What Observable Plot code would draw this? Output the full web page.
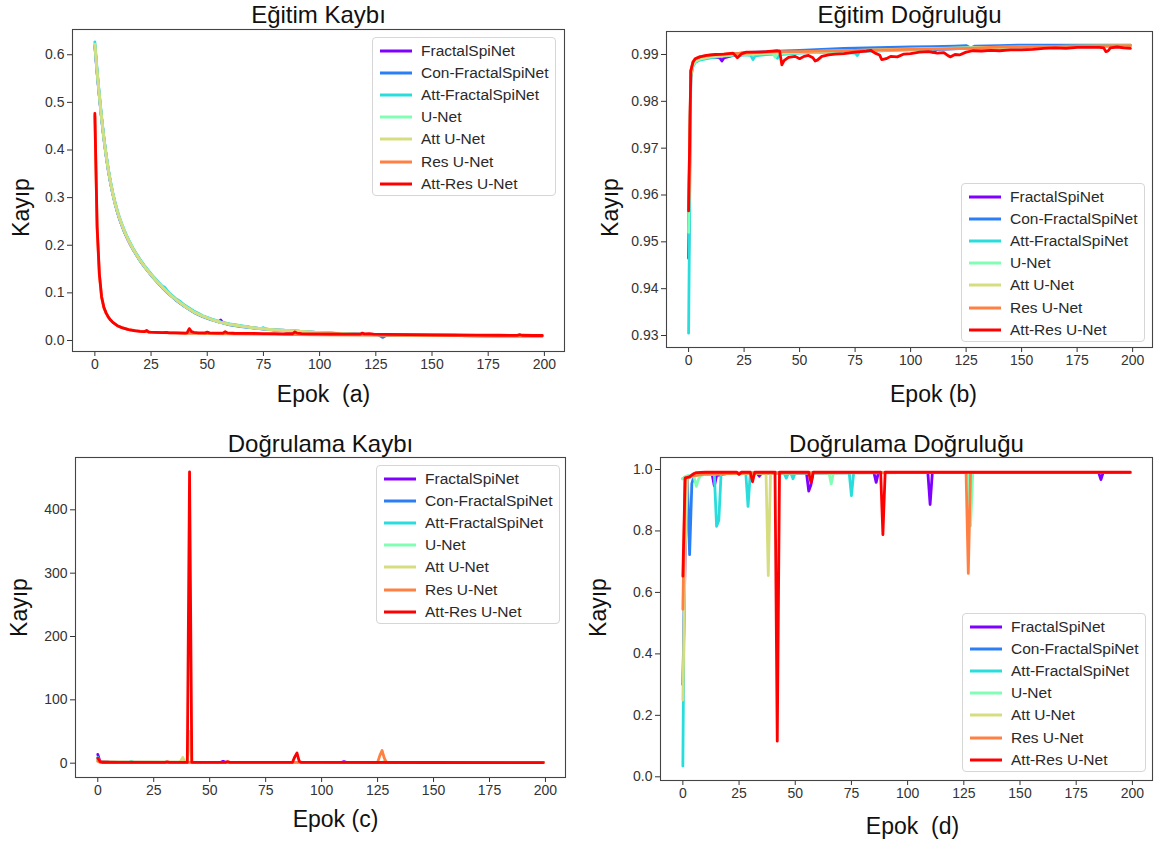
<!DOCTYPE html>
<html>
<head>
<meta charset="utf-8">
<script src="https://cdn.jsdelivr.net/npm/d3@7"></script>
<script src="https://cdn.jsdelivr.net/npm/@observablehq/plot@0.6"></script>
<style>
  html, body { margin: 0; padding: 0; background: #fff; }
  #fig { position: relative; width: 1154px; height: 845px; background: #fff; overflow: hidden;
         font-family: "Liberation Sans", Arial, sans-serif; }
  .panel { position: absolute; }
  .legend { position: absolute; box-sizing: border-box; border: 1px solid #d6d6d6; border-radius: 4px;
            background: rgba(255,255,255,0.85); }
  .legend .row { position: absolute; left: 0; height: 20px; display: flex; align-items: center;
                 font-size: 15.5px; color: #2a2a2a; white-space: nowrap; }
</style>
</head>
<body>
<div id="fig"></div>
<script>
// ---------------- series & styling ----------------
const seriesNames = ["FractalSpiNet", "Con-FractalSpiNet", "Att-FractalSpiNet", "U-Net", "Att U-Net", "Res U-Net", "Att-Res U-Net"];
const seriesColors = ["#8000ff", "#2a7ff6", "#2adddd", "#80ffb4", "#d5dd80", "#ff8042", "#ff0000"];

// ---------------- tick labels ----------------
const epochTicks = [0, 25, 50, 75, 100, 125, 150, 175, 200];
const trainLossTicks = [0, 0.1, 0.2, 0.3, 0.4, 0.5, 0.6];
const trainAccTicks = [0.93, 0.94, 0.95, 0.96, 0.97, 0.98, 0.99];
const valLossTicks = [0, 100, 200, 300, 400];
const valAccTicks = [0, 0.2, 0.4, 0.6, 0.8, 1.0];

// ---------------- (a) Eğitim Kaybı : [epoch, value] ----------------
const trainLossFractalSpiNet = [[0,0.618],[1,0.562],[2,0.512],[3,0.466],[4,0.424],[5,0.388],[6,0.357],[7,0.33],[8,0.307],[9,0.288],[10,0.27],[11,0.255],[12,0.242],[13,0.23],[14,0.219],[15,0.209],[16,0.2],[17,0.192],[18,0.184],[20,0.169],[22,0.156],[25,0.138],[28,0.122],[30,0.112],[33,0.098],[36,0.086],[40,0.072],[44,0.06],[48,0.051],[52,0.044],[55,0.039],[56,0.043],[57,0.037],[60,0.034],[65,0.03],[70,0.027],[75,0.0245],[80,0.0225],[85,0.021],[90,0.0195],[95,0.018],[100,0.0165],[110,0.0145],[120,0.013],[130,0.012],[150,0.011],[175,0.01],[199,0.0095]];
const trainLossConFractalSpiNet = [[0,0.62],[1,0.563],[2,0.513],[3,0.466],[4,0.425],[5,0.389],[6,0.357],[7,0.33],[8,0.307],[9,0.287],[10,0.27],[11,0.255],[12,0.242],[13,0.23],[14,0.219],[15,0.209],[16,0.2],[17,0.191],[18,0.183],[20,0.168],[22,0.155],[25,0.137],[28,0.121],[30,0.111],[33,0.097],[36,0.085],[40,0.071],[44,0.059],[48,0.05],[52,0.043],[56,0.038],[60,0.033],[65,0.029],[70,0.0265],[75,0.024],[80,0.022],[85,0.0205],[90,0.019],[95,0.0175],[100,0.016],[110,0.0142],[120,0.0128],[126,0.0118],[128,0.0065],[130,0.0115],[150,0.0108],[175,0.0099],[199,0.0094]];
const trainLossAttFractalSpiNet = [[0,0.627],[1,0.568],[2,0.517],[3,0.47],[4,0.428],[5,0.391],[6,0.36],[7,0.333],[8,0.31],[9,0.29],[10,0.273],[11,0.258],[12,0.245],[13,0.233],[14,0.222],[15,0.212],[16,0.203],[17,0.194],[18,0.186],[20,0.171],[22,0.158],[25,0.14],[28,0.124],[30,0.114],[31,0.112],[33,0.1],[36,0.088],[38,0.082],[40,0.074],[44,0.062],[46,0.057],[48,0.052],[52,0.045],[56,0.039],[60,0.035],[65,0.031],[70,0.027],[74,0.025],[75,0.027],[76,0.024],[80,0.0225],[85,0.021],[90,0.0195],[95,0.018],[100,0.0165],[110,0.0145],[120,0.013],[130,0.012],[150,0.011],[175,0.01],[199,0.0095]];
const trainLossUNet = [[0,0.621],[1,0.564],[2,0.514],[3,0.467],[4,0.425],[5,0.389],[6,0.358],[7,0.331],[8,0.308],[9,0.288],[10,0.271],[11,0.256],[12,0.243],[13,0.231],[14,0.22],[15,0.21],[16,0.201],[17,0.192],[18,0.184],[20,0.169],[22,0.156],[25,0.138],[28,0.122],[30,0.112],[33,0.098],[36,0.086],[40,0.072],[44,0.06],[48,0.051],[52,0.044],[56,0.038],[60,0.034],[65,0.03],[70,0.027],[75,0.0245],[80,0.0225],[85,0.021],[90,0.0195],[95,0.018],[100,0.0163],[110,0.0143],[120,0.0128],[130,0.0118],[150,0.0108],[175,0.0099],[199,0.0094]];
const trainLossAttUNet = [[0,0.622],[1,0.565],[2,0.514],[3,0.467],[4,0.425],[5,0.389],[6,0.358],[7,0.331],[8,0.308],[9,0.288],[10,0.271],[11,0.256],[12,0.243],[13,0.231],[14,0.22],[15,0.21],[16,0.201],[17,0.192],[18,0.184],[20,0.169],[22,0.156],[25,0.138],[28,0.122],[30,0.112],[33,0.098],[36,0.086],[40,0.072],[44,0.06],[48,0.051],[52,0.044],[56,0.038],[60,0.034],[65,0.03],[70,0.027],[75,0.0245],[80,0.0225],[85,0.021],[90,0.0195],[95,0.018],[100,0.0165],[110,0.0145],[120,0.013],[130,0.012],[150,0.011],[175,0.01],[199,0.0095]];
const trainLossResUNet = [[0,0.472],[1,0.235],[2,0.138],[3,0.09],[4,0.069],[5,0.057],[6,0.049],[7,0.043],[8,0.038],[10,0.031],[12,0.027],[15,0.023],[20,0.0195],[25,0.0175],[30,0.0165],[35,0.0158],[40,0.0152],[45,0.0148],[50,0.0145],[60,0.014],[70,0.0135],[80,0.013],[90,0.0125],[100,0.012],[120,0.0115],[140,0.011],[160,0.0105],[180,0.01],[199,0.0095]];
const trainLossAttResUNet = [[0,0.477],[1,0.24],[2,0.14],[3,0.092],[4,0.07],[5,0.058],[6,0.049],[7,0.043],[8,0.038],[10,0.031],[12,0.027],[15,0.023],[18,0.02],[20,0.019],[22,0.0185],[23,0.021],[24,0.0175],[27,0.017],[30,0.0165],[32,0.017],[33,0.0162],[36,0.016],[40,0.0155],[41,0.016],[42,0.025],[43,0.0185],[44,0.017],[46,0.0162],[49,0.016],[50,0.0175],[51,0.016],[54,0.0155],[57,0.0153],[58,0.0185],[59,0.016],[62,0.0152],[66,0.015],[70,0.0148],[75,0.0146],[80,0.0145],[84,0.014],[85,0.0142],[88,0.0142],[89,0.018],[90,0.0155],[92,0.0145],[96,0.014],[100,0.0138],[105,0.0136],[108,0.0138],[110,0.0135],[115,0.0133],[118,0.0132],[119,0.0155],[120,0.014],[122,0.0145],[124,0.0132],[130,0.013],[140,0.0125],[150,0.012],[160,0.0115],[170,0.0112],[180,0.011],[188,0.0108],[189,0.0125],[190,0.011],[195,0.0105],[199,0.0105]];

// ---------------- (b) Eğitim Doğruluğu ----------------
const trainAccFractalSpiNet = [[0,0.9465],[1,0.9855],[2,0.9878],[3,0.9885],[5,0.989],[10,0.9895],[14,0.9893],[15,0.9886],[16,0.9893],[20,0.9898],[25,0.99],[30,0.9902],[40,0.9904],[50,0.9906],[60,0.9907],[75,0.9909],[100,0.9911],[108,0.9911],[110,0.9905],[112,0.9911],[125,0.9913],[150,0.9915],[175,0.9917],[199,0.9918]];
const trainAccConFractalSpiNet = [[0,0.952],[1,0.9862],[2,0.9882],[3,0.9888],[5,0.9893],[10,0.9897],[15,0.9899],[20,0.9901],[25,0.9904],[30,0.9905],[40,0.9907],[50,0.9909],[60,0.9911],[70,0.9913],[80,0.9914],[90,0.9915],[100,0.9916],[110,0.9917],[120,0.9918],[125,0.9919],[127,0.9914],[129,0.9918],[140,0.9919],[150,0.992],[175,0.992],[199,0.992]];
const trainAccAttFractalSpiNet = [[0,0.9305],[1,0.985],[2,0.9875],[3,0.9883],[5,0.9888],[10,0.9893],[15,0.9896],[20,0.9898],[25,0.9899],[28,0.9898],[29,0.9889],[30,0.9897],[35,0.99],[39,0.9901],[40,0.9892],[41,0.99],[50,0.9903],[60,0.9905],[75,0.9903],[76,0.9898],[77,0.9906],[100,0.991],[125,0.9913],[150,0.9916],[175,0.9918],[199,0.9919]];
const trainAccUNet = [[0,0.952],[1,0.9855],[2,0.9877],[3,0.9885],[5,0.989],[10,0.9895],[20,0.9899],[30,0.9901],[38,0.9903],[39,0.9894],[40,0.9902],[50,0.9904],[60,0.9906],[75,0.9908],[100,0.9911],[125,0.9914],[150,0.9916],[175,0.9918],[199,0.9919]];
const trainAccAttUNet = [[0,0.957],[1,0.9858],[2,0.988],[3,0.9887],[5,0.9891],[10,0.9896],[20,0.99],[30,0.9902],[40,0.9904],[50,0.9905],[60,0.9907],[75,0.9909],[100,0.9912],[125,0.9914],[150,0.9916],[175,0.9917],[199,0.9918]];
const trainAccResUNet = [[0,0.957],[1,0.9866],[2,0.9885],[3,0.9891],[5,0.9895],[10,0.9899],[20,0.9902],[30,0.9904],[40,0.9906],[50,0.9906],[60,0.9907],[75,0.9909],[100,0.9911],[125,0.9913],[127,0.9913],[140,0.9916],[150,0.9917],[175,0.9918],[199,0.9919]];
const trainAccAttResUNet = [[0,0.9566],[1,0.9865],[2,0.9884],[3,0.9891],[5,0.9895],[8,0.9898],[12,0.99],[16,0.9901],[20,0.9903],[22,0.9893],[24,0.9902],[26,0.9905],[30,0.9905],[35,0.9906],[40,0.9908],[41,0.9907],[42,0.9878],[43,0.9887],[45,0.9894],[48,0.9896],[50,0.9891],[52,0.9896],[54,0.9898],[56,0.9893],[57,0.9886],[58,0.9888],[60,0.9896],[63,0.9899],[66,0.9901],[70,0.9902],[75,0.9905],[80,0.9907],[82,0.9909],[84,0.9903],[86,0.9899],[87,0.9889],[89,0.9891],[91,0.9896],[94,0.9895],[97,0.9901],[100,0.9902],[104,0.9905],[108,0.9906],[112,0.9903],[115,0.9904],[117,0.9897],[118,0.9895],[120,0.99],[122,0.9899],[125,0.9905],[128,0.9908],[132,0.9907],[136,0.9909],[140,0.9908],[145,0.991],[150,0.991],[155,0.9911],[160,0.9913],[165,0.9914],[170,0.9913],[175,0.9915],[180,0.9915],[185,0.9915],[187,0.9914],[188,0.9906],[189,0.9908],[190,0.9914],[193,0.9916],[196,0.9914],[199,0.9913]];

// ---------------- (c) Doğrulama Kaybı ----------------
const valLossFractalSpiNet = [[0,14],[1,2.5],[2,1.8],[5,1.5],[10,1.4],[25,1.3],[55,1.3],[56,3],[57,1.3],[100,1.2],[109,1.2],[110,2.5],[111,1.2],[150,1.1],[199,1.1]];
const valLossConFractalSpiNet = [[0,6],[1,2],[5,1.4],[50,1.3],[100,1.2],[199,1.1]];
const valLossAttFractalSpiNet = [[0,9],[1,2],[14,1.5],[15,3],[16,1.5],[50,1.3],[100,1.2],[199,1.1]];
const valLossUNet = [[0,4],[1,1.8],[50,1.3],[100,1.2],[127,1.2],[128,3],[129,1.2],[199,1.1]];
const valLossAttUNet = [[0,5],[1,2],[36,1.5],[37,3],[38,9],[39,1.5],[40,1.5],[41,50],[42,1.5],[100,1.2],[199,1.1]];
const valLossResUNet = [[0,3],[1,1.5],[50,1.3],[100,1.2],[125,1.2],[126,12],[127,20],[128,8],[129,1.2],[199,1.1]];
const valLossAttResUNet = [[0,8],[1,2.5],[2,1.5],[10,1.3],[30,1.2],[31,2],[32,1.2],[40,1.2],[41,460],[42,1.3],[57,1.2],[58,2.5],[59,1.2],[87,1.5],[88,10],[89,16],[90,3],[91,1.2],[100,1.2],[150,1.1],[199,1.0]];

// ---------------- (d) Doğrulama Doğruluğu ----------------
const valAccFractalSpiNet = [[0,0.30],[1,0.72],[2,0.97],[3,0.975],[5,0.98],[8,0.985],[13,0.985],[14,0.946],[15,0.98],[18,0.985],[20,0.987],[30,0.988],[33,0.988],[34,0.978],[35,0.988],[50,0.989],[55,0.988],[56,0.93],[57,0.95],[58,0.989],[70,0.99],[85,0.99],[86,0.958],[87,0.99],[100,0.99],[109,0.99],[110,0.886],[111,0.99],[150,0.99],[185,0.99],[186,0.967],[187,0.99],[199,0.99]];
const valAccConFractalSpiNet = [[0,0.97],[1,0.975],[2,0.965],[3,0.723],[4,0.955],[5,0.98],[7,0.985],[10,0.986],[20,0.987],[30,0.988],[50,0.989],[100,0.99],[199,0.99]];
const valAccAttFractalSpiNet = [[0,0.035],[1,0.975],[2,0.978],[5,0.982],[10,0.985],[14,0.984],[15,0.815],[16,0.835],[17,0.986],[20,0.987],[28,0.988],[29,0.88],[30,0.988],[45,0.989],[46,0.972],[47,0.989],[48,0.989],[49,0.97],[50,0.989],[74,0.99],[75,0.915],[76,0.99],[199,0.99]];
const valAccUNet = [[0,0.97],[1,0.975],[2,0.98],[5,0.975],[6,0.945],[7,0.97],[8,0.98],[10,0.985],[20,0.987],[30,0.988],[50,0.989],[65,0.99],[66,0.953],[67,0.99],[100,0.99],[127,0.99],[128,0.816],[129,0.99],[199,0.99]];
const valAccAttUNet = [[0,0.25],[1,0.72],[2,0.97],[3,0.975],[5,0.98],[10,0.985],[20,0.987],[30,0.988],[37,0.988],[38,0.655],[39,0.988],[50,0.989],[100,0.99],[199,0.99]];
const valAccResUNet = [[0,0.545],[1,0.97],[2,0.975],[5,0.98],[10,0.985],[20,0.987],[30,0.988],[50,0.989],[100,0.99],[126,0.99],[127,0.662],[128,0.99],[199,0.99]];
const valAccAttResUNet = [[0,0.653],[1,0.973],[2,0.974],[3,0.976],[4,0.982],[5,0.987],[6,0.99],[10,0.991],[24,0.991],[25,0.984],[26,0.991],[30,0.991],[31,0.96],[32,0.991],[41,0.991],[42,0.116],[43,0.991],[56,0.991],[57,0.957],[58,0.991],[88,0.991],[89,0.788],[90,0.991],[199,0.991]];

// ---------------- build ----------------
function rows(list) {
  return list.flatMap((pairs, i) => pairs.map(([epoch, value]) => ({series: seriesNames[i], epoch, value})));
}

const panels = [
  {left: 0, top: 0, width: 577, height: 422, ml: 72, mr: 13, mt: 29, mb: 71,
   yDomain: [-0.0231, 0.653], yTicks: trainLossTicks, yFormat: d3.format(".1f"),
   title: "Eğitim Kaybı", titleDy: -6.5, xlabel: "Epok\u00a0 (a)", xDx: 5, xDy: 50, yDx: -44, yDy: 17,
   data: rows([trainLossFractalSpiNet, trainLossConFractalSpiNet, trainLossAttFractalSpiNet, trainLossUNet, trainLossAttUNet, trainLossResUNet, trainLossAttResUNet]),
   legend: {left: 372, top: 37}},
  {left: 577, top: 0, width: 577, height: 422, ml: 89, mr: 2, mt: 31, mb: 75,
   yDomain: [0.92744, 0.99491], yTicks: trainAccTicks, yFormat: d3.format(".2f"),
   title: "Eğitim Doğruluğu", titleDy: -8.5, xlabel: "Epok (b)", xDx: 24, xDy: 54, yDx: -49, yDy: 18,
   data: rows([trainAccFractalSpiNet, trainAccConFractalSpiNet, trainAccAttFractalSpiNet, trainAccUNet, trainAccAttUNet, trainAccResUNet, trainAccAttResUNet]),
   legend: {left: 961, top: 183}},
  {left: 0, top: 422, width: 577, height: 423, ml: 75, mr: 12, mt: 35, mb: 68,
   yDomain: [-22.6, 482.6], yTicks: valLossTicks, yFormat: d3.format("d"),
   title: "Doğrulama Kaybı", titleDy: -6, xlabel: "Epok (c)", xDx: 15, xDy: 49, yDx: -49, yDy: -10,
   data: rows([valLossFractalSpiNet, valLossConFractalSpiNet, valLossAttFractalSpiNet, valLossUNet, valLossAttUNet, valLossResUNet, valLossAttResUNet]),
   legend: {left: 376, top: 465}},
  {left: 577, top: 422, width: 577, height: 423, ml: 83, mr: 2, mt: 35, mb: 65,
   yDomain: [-0.012, 1.039], yTicks: valAccTicks, yFormat: d3.format(".1f"),
   title: "Doğrulama Doğruluğu", titleDy: -6, xlabel: "Epok\u00a0 (d)", xDx: 6, xDy: 53, yDx: -55, yDy: -11.5,
   data: rows([valAccFractalSpiNet, valAccConFractalSpiNet, valAccAttFractalSpiNet, valAccUNet, valAccAttUNet, valAccResUNet, valAccAttResUNet]),
   legend: {left: 962, top: 613}}
];

const fig = document.getElementById("fig");
const FONT = "'Liberation Sans', Arial, sans-serif";

for (const p of panels) {
  const chart = Plot.plot({
    width: p.width, height: p.height,
    marginLeft: p.ml, marginRight: p.mr, marginTop: p.mt, marginBottom: p.mb,
    style: {fontFamily: FONT, fontSize: "14px", color: "#333", background: "transparent", overflow: "visible"},
    x: {domain: [-9.95, 208.95], ticks: epochTicks, tickFormat: d3.format("d"), tickSize: 5, tickPadding: 3, label: null},
    y: {domain: p.yDomain, ticks: p.yTicks, tickFormat: p.yFormat, tickSize: 5, tickPadding: 3, label: null},
    color: {domain: seriesNames, range: seriesColors},
    marks: [
      Plot.line(p.data, {x: "epoch", y: "value", z: "series", stroke: "series", strokeWidth: 2.8,
                         strokeLinejoin: "round", clip: true}),
      Plot.frame({stroke: "#444", strokeWidth: 1.1}),
      Plot.text([p.title], {frameAnchor: "top", dy: p.titleDy, lineAnchor: "bottom", textAnchor: "middle",
                            fontSize: 24, fill: "#111"}),
      Plot.text([p.xlabel], {frameAnchor: "bottom", dx: p.xDx, dy: p.xDy, lineAnchor: "bottom", textAnchor: "middle",
                             fontSize: 23, fill: "#111"}),
      Plot.text(["Kayıp"], {frameAnchor: "left", dx: p.yDx, dy: p.yDy, rotate: -90, lineAnchor: "bottom",
                            textAnchor: "middle", fontSize: 23, fill: "#111"})
    ]
  });
  const holder = document.createElement("div");
  holder.className = "panel";
  holder.style.left = p.left + "px";
  holder.style.top = p.top + "px";
  holder.style.width = p.width + "px";
  holder.style.height = p.height + "px";
  holder.appendChild(chart);
  fig.appendChild(holder);

  // legend (line swatches)
  const lg = document.createElement("div");
  lg.className = "legend";
  lg.style.left = p.legend.left + "px";
  lg.style.top = p.legend.top + "px";
  lg.style.width = "184px";
  lg.style.height = "159px";
  seriesNames.forEach((name, i) => {
    const row = document.createElement("div");
    row.className = "row";
    row.style.top = (12.5 + i * 22.2 - 10) + "px";
    row.innerHTML = `<svg width="48" height="20" style="flex:none"><line x1="7" x2="39" y1="10" y2="10" stroke="${seriesColors[i]}" stroke-width="3"/></svg><span>${name}</span>`;
    lg.appendChild(row);
  });
  fig.appendChild(lg);
}
</script>
</body>
</html>
